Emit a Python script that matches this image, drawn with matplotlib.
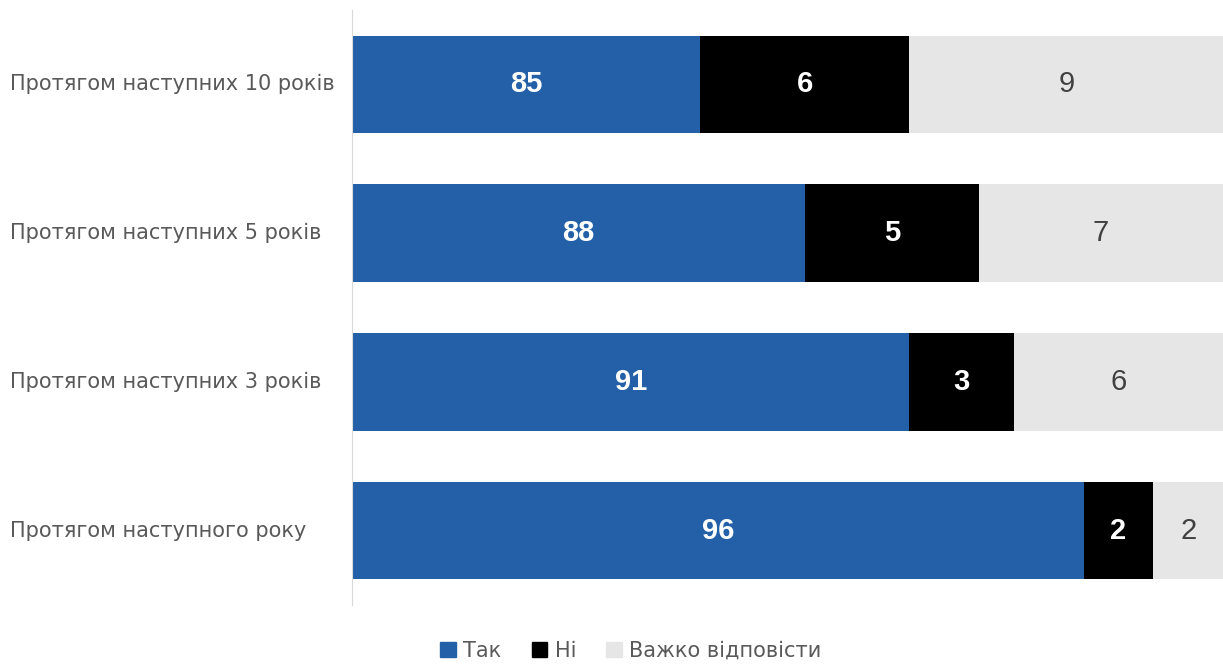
import matplotlib.pyplot as plt
from matplotlib.patches import Patch
from matplotlib.transforms import blended_transform_factory

categories = ["Протягом наступних 10 років", "Протягом наступних 5 років",
              "Протягом наступних 3 років", "Протягом наступного року"]
yes = [85, 88, 91, 96]
no = [6, 5, 3, 2]
hard = [9, 7, 6, 2]
series_names = ["Так", "Ні", "Важко відповісти"]
colors = ["#2360A8", "#000000", "#E6E6E6"]
x_start = 75  # the value axis in the original starts at 75

plt.rcParams["font.family"] = ["DejaVu Sans"]

fig = plt.figure(figsize=(12.23, 6.64), dpi=100)
ax = fig.add_axes([352 / 1223, 1 - 605 / 664, 1 - 352 / 1223, 595 / 664])

ypos = list(range(len(categories)))
left = [0] * len(categories)
for vals, col, name in zip([yes, no, hard], colors, series_names):
    ax.barh(ypos, vals, left=left, height=0.655, color=col, label=name)
    for y, l, v in zip(ypos, left, vals):
        mid = (max(l, x_start) + l + v) / 2
        if col == "#E6E6E6":
            ax.text(mid, y, str(v), ha="center", va="center", family="Liberation Sans",
                    color="#404040", fontsize=21)
        else:
            ax.text(mid, y, str(v), ha="center", va="center", family="Liberation Sans",
                    color="white", fontsize=21, fontweight="bold")
    left = [l + v for l, v in zip(left, vals)]

ax.set_xlim(x_start, 100)
ax.set_ylim(3.5, -0.5)
ax.set_yticks([])
ax.set_xticks([])
for side in ["top", "right", "bottom"]:
    ax.spines[side].set_visible(False)
ax.spines["left"].set_color("#D9D9D9")

# category labels are left-aligned at the figure edge
trans = blended_transform_factory(fig.transFigure, ax.transData)
for y, cat in zip(ypos, categories):
    ax.text(10 / 1223, y, cat, transform=trans, ha="left", va="center",
            fontsize=15, color="#595959")

handles = [Patch(color=c, label=n) for c, n in zip(colors, series_names)]
fig.legend(handles=handles, loc="center", bbox_to_anchor=(631 / 1223, 1 - 651 / 664),
           ncol=3, frameon=False, fontsize=15, labelcolor="#595959",
           handlelength=0.75, handleheight=0.75, handletextpad=0.35, columnspacing=1.45)

fig.savefig("out.png", dpi=100)
